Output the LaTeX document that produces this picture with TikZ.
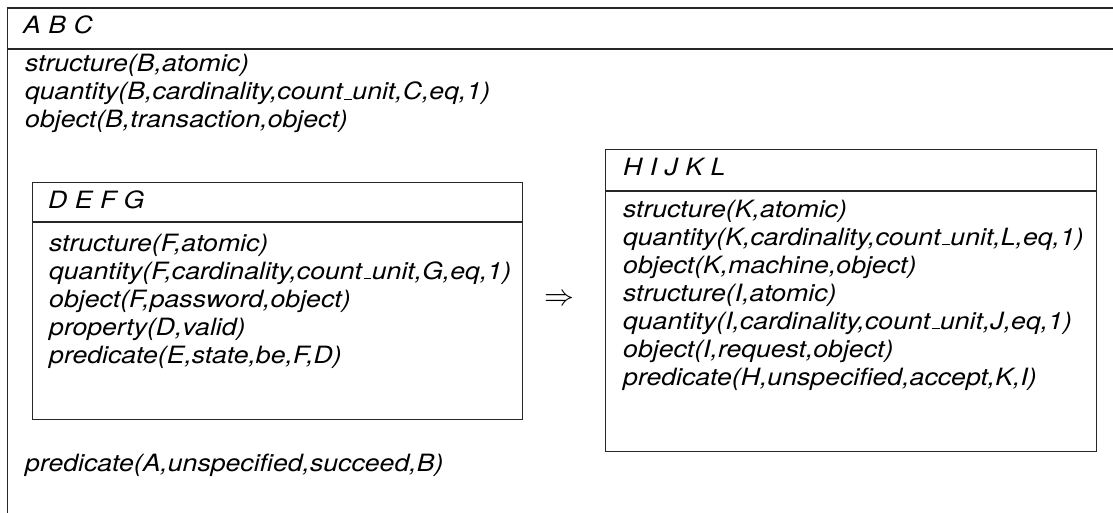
\documentclass[tikz,border=0pt]{standalone}
\usepackage{graphicx}
\usepackage{fontspec}
\setmainfont{TeX Gyre Heros}[FakeStretch=1.12]
\newcommand{\us}{\kern0.06em\rule{0.33em}{1.1pt}\kern0.02em}
\begin{document}
\begin{tikzpicture}[x=1pt,y=-1pt,
  txt/.style={anchor=base west, inner sep=0pt, font=\fontsize{23.8}{28}\selectfont\itshape},
  frame/.style={draw=black!85, line width=1.2pt},
  boxn/.style={frame, rectangle, anchor=north west, inner sep=0pt}]
\useasboundingbox (0,0) rectangle (1113,513);
\begin{scope}
\clip (0,0) rectangle (1113,513);
\coordinate (obl) at (7.5,520);
\coordinate (otl) at (7.5,8);
\coordinate (otr) at (1120,8);
\coordinate (osl) at (7.5,49);
\coordinate (osr) at (1120,49);
\draw[frame] (obl) -- (otl) -- (otr);
\draw[frame] (osl) -- (osr);
\end{scope}
% main box text
\node[txt] (abc) at (23,34) {A B C};
\node[txt] (m1) at (25,72) {structure(B,atomic)};
\node[txt] (m2) at (25,100) {quantity(B,cardinality,count\us unit,C,eq,1)};
\node[txt] (m3) at (25,128) {object(B,transaction,object)};
\node[txt] (m4) at (25,471) {predicate(A,unspecified,succeed,B)};
% DEFG box
\node[boxn, minimum width=490pt, minimum height=237pt] (defg) at (32,182) {};
\coordinate (ds1) at (32,222);
\coordinate (ds2) at (522,222);
\draw[frame] (ds1) -- (ds2);
\node[txt] (dh) at (48,208) {D E F G};
\node[txt] (d1) at (49,251) {structure(F,atomic)};
\node[txt] (d2) at (49,279) {quantity(F,cardinality,count\us unit,G,eq,1)};
\node[txt] (d3) at (49,307) {object(F,password,object)};
\node[txt] (d4) at (49,335) {property(D,valid)};
\node[txt] (d5) at (49,363) {predicate(E,state,be,F,D)};
% arrow
\node[inner sep=0pt, font=\fontsize{24}{28}\selectfont] (arr) at (559.5,300) {\scalebox{1.2}{$\Rightarrow$}};
% HIJKL box
\node[boxn, minimum width=491pt, minimum height=302pt] (hijkl) at (605,149) {};
\coordinate (hs1) at (605,191);
\coordinate (hs2) at (1096,191);
\draw[frame] (hs1) -- (hs2);
\node[txt] (hh) at (623,176) {H I J K L};
\node[txt] (h1) at (623,217) {structure(K,atomic)};
\node[txt] (h2) at (623,245) {quantity(K,cardinality,count\us unit,L,eq,1)};
\node[txt] (h3) at (623,273) {object(K,machine,object)};
\node[txt] (h4) at (623,301) {structure(I,atomic)};
\node[txt] (h5) at (623,329) {quantity(I,cardinality,count\us unit,J,eq,1)};
\node[txt] (h6) at (623,357) {object(I,request,object)};
\node[txt] (h7) at (623,385) {predicate(H,unspecified,accept,K,I)};
\end{tikzpicture}
\end{document}
